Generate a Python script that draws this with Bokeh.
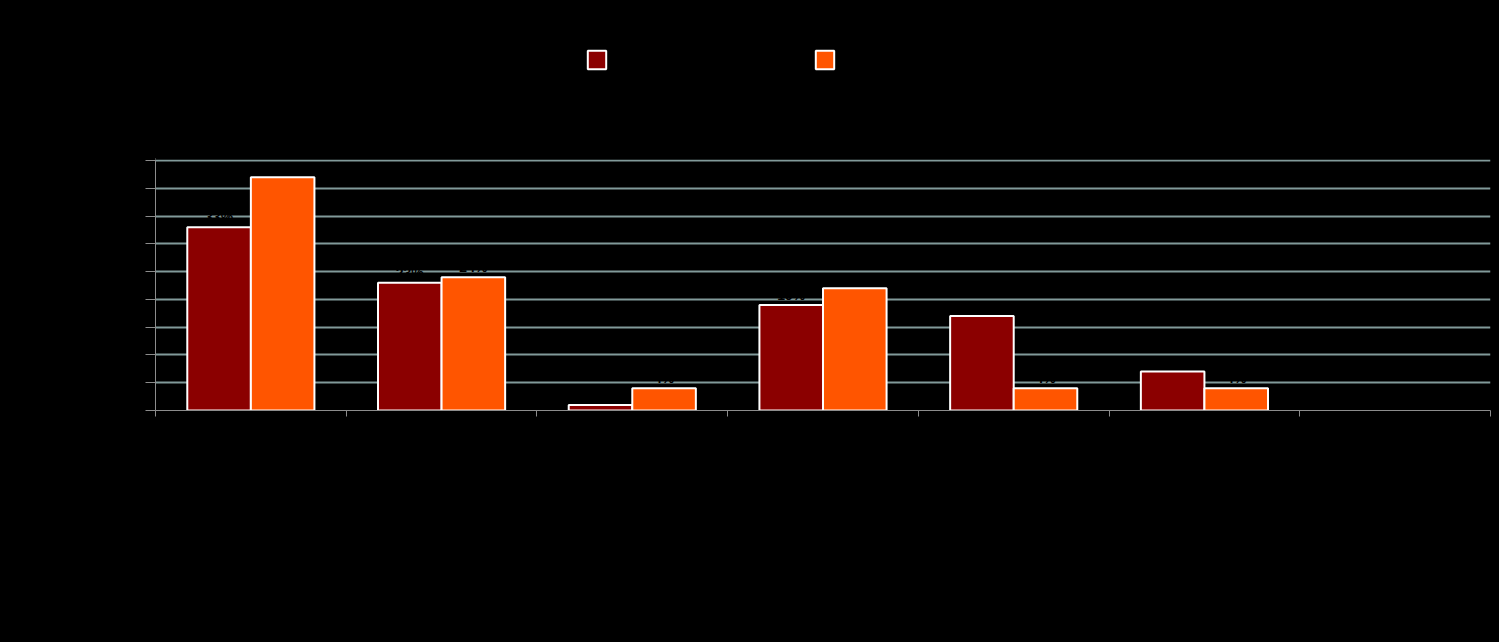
import numpy as np
from bokeh.plotting import figure
from bokeh.layouts import column
from bokeh.models import (ColumnDataSource, Range1d, LinearAxis, FixedTicker,
                          Legend, LegendItem)
from bokeh.embed import file_html
from bokeh.resources import INLINE
from bokeh.core.properties import value

# ---- data ----
categories = ["Category 1", "Category 2", "Category 3", "Category 4",
              "Category 5", "Category 6", "Category 7"]
series_names = ["Series 1", "Series 2"]
series_a = [33, 23, 1, 19, 17, 7, 0]
series_b = [42, 24, 4, 22, 4, 4, 0]
y_ticks = [0, 5, 10, 15, 20, 25, 30, 35, 40, 45]
y_tick_labels = ["0%", "5%", "10%", "15%", "20%", "25%", "30%", "35%", "40%", "45%"]

dark = "#8B0000"
orange = "#FF5500"
grid_col = "#819a9a"
axis_col = "#8c8c8c"
font = "Liberation Sans"

n = len(categories)
idx = np.arange(n)
bw = 1.0 / 3.0


def make_src(vals, shift):
    return ColumnDataSource(dict(
        x=idx + 0.5 + shift, top=vals,
        lab=[f"{v}%" for v in vals],
        la=[1.0 if v > 0 else 0.0 for v in vals]))


src_a = make_src(series_a, -bw / 2)
src_b = make_src(series_b, bw / 2)

# ---- legend strip ----
top = figure(width=1491, height=159, output_backend="svg", toolbar_location=None,
             x_range=Range1d(0, 1), y_range=Range1d(0, 1),
             x_axis_type=None, y_axis_type=None,
             min_border_left=0, min_border_right=0,
             min_border_top=0, min_border_bottom=0)
top.background_fill_color = "black"
top.border_fill_color = "black"
top.outline_line_color = None
top.grid.grid_line_color = None
# off-screen proxies, only used to draw the legend swatches
proxy = ColumnDataSource(dict(x=[-10.0], top=[0.0]))
la_ = top.vbar(x="x", top="top", width=0.1, source=proxy,
               fill_color=dark, line_color="white", line_width=2)
lb_ = top.vbar(x="x", top="top", width=0.1, source=proxy,
               fill_color=orange, line_color="white", line_width=2)
lg = Legend(items=[LegendItem(label=series_names[0], renderers=[la_]),
                   LegendItem(label=series_names[1], renderers=[lb_])],
            location=(430, 88), orientation="horizontal",
            padding=0, margin=0, spacing=1,
            glyph_width=23, glyph_height=23, label_height=23, label_width=196,
            label_text_color="black", label_text_font=font,
            label_text_font_size="13px", label_standoff=8,
            border_line_color=None, background_fill_alpha=0)
top.add_layout(lg, "center")

# ---- chart ----
p = figure(width=1491, height=483, output_backend="svg", toolbar_location=None,
           x_range=Range1d(0, n), y_range=Range1d(0, 45.18),
           x_axis_type=None, min_border_left=155, min_border_right=1,
           min_border_top=0, min_border_bottom=232)
p.background_fill_color = "black"
p.border_fill_color = "black"
p.outline_line_color = None

p.yaxis.ticker = FixedTicker(ticks=y_ticks)
p.yaxis.major_label_overrides = {t: l for t, l in zip(y_ticks, y_tick_labels)}
p.yaxis.axis_line_color = axis_col
p.yaxis.major_tick_line_color = axis_col
p.yaxis.major_tick_out = 10
p.yaxis.major_tick_in = 0
p.yaxis.minor_tick_line_color = None
p.yaxis.major_label_text_color = "black"
p.yaxis.major_label_text_font = font
p.yaxis.major_label_text_font_size = "13px"
p.ygrid.ticker = FixedTicker(ticks=y_ticks)
p.ygrid.grid_line_color = grid_col
p.ygrid.grid_line_width = 2
p.xgrid.grid_line_color = None

xa = LinearAxis(ticker=FixedTicker(ticks=list(idx + 0.5),
                                   minor_ticks=list(range(n + 1))))
xa.major_label_overrides = {float(i + 0.5): c for i, c in enumerate(categories)}
xa.axis_line_color = axis_col
xa.major_tick_line_color = None
xa.minor_tick_line_color = axis_col
xa.minor_tick_out = 6
xa.minor_tick_in = 0
xa.major_label_standoff = 12
xa.major_label_text_color = "black"
xa.major_label_text_font = font
xa.major_label_text_font_size = "13px"
p.add_layout(xa, "below")

ra = p.vbar(x="x", top="top", width=bw, bottom=0, source=src_a,
            fill_color=dark, line_color="white", line_width=2, line_alpha="la")
rb = p.vbar(x="x", top="top", width=bw, bottom=0, source=src_b,
            fill_color=orange, line_color="white", line_width=2, line_alpha="la")

for s in (src_a, src_b):
    p.text(x="x", y="top", text="lab", source=s, text_color="black",
           text_align="center", text_baseline="bottom", y_offset=-2,
           text_font=value(font), text_font_size="14px", text_font_style="bold")

layout = column(top, p, spacing=0)
html = file_html(layout, INLINE)
html = html.replace("<body>", '<body style="background-color:black;">')
open("out.html", "w").write(html)
